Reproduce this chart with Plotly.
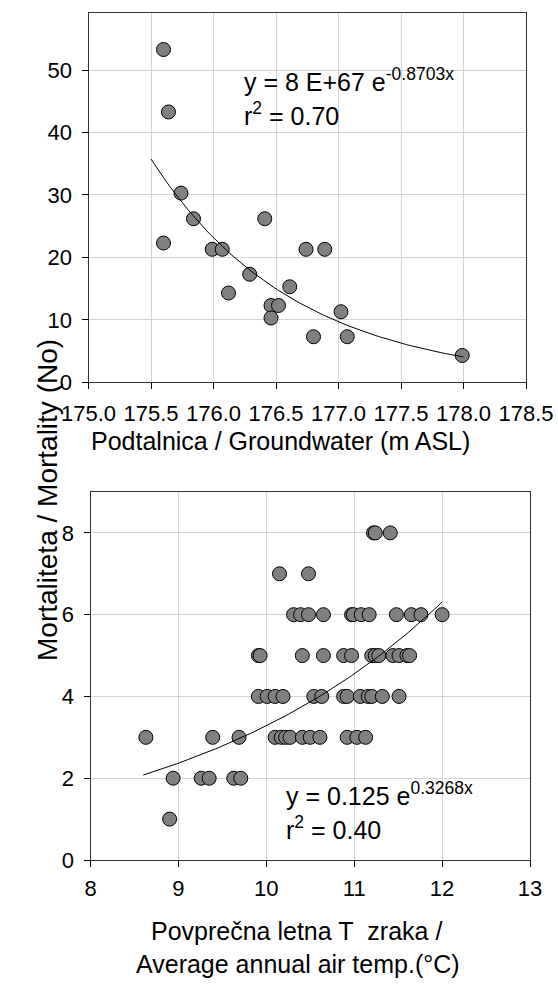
import numpy as np
import plotly.graph_objects as go

# ---- Top panel: groundwater vs mortality ----
gw_x = [175.60, 175.64, 175.74, 175.84, 175.60, 175.99, 176.07, 176.41, 176.29,
        176.12, 176.61, 176.46, 176.52, 176.46, 176.74, 176.89, 176.80, 177.02,
        177.07, 177.99]
gw_y = [53.3, 43.3, 30.3, 26.2, 22.3, 21.3, 21.3, 26.2, 17.3,
        14.3, 15.3, 12.3, 12.3, 10.3, 21.3, 21.3, 7.3, 11.3,
        7.3, 4.3]
gw_xticks = [175.0, 175.5, 176.0, 176.5, 177.0, 177.5, 178.0, 178.5]
gw_yticks = [0, 10, 20, 30, 40, 50]
gw_fit_a, gw_fit_b = 7.7e67, -0.8703   # shown rounded as "8 E+67"
gw_fit_range = [175.5, 178.0]

# ---- Bottom panel: air temperature vs mortality ----
t_x = [8.63, 9.39, 9.69,
       10.10, 10.17, 10.22, 10.27, 10.41, 10.50, 10.61, 10.92, 11.03, 11.13,
       8.94, 9.26, 9.35, 9.63, 9.71,
       8.90,
       9.91, 10.01, 10.10, 10.19, 10.54, 10.63, 10.88, 10.92, 11.07, 11.16, 11.20, 11.32, 11.51,
       9.91, 9.93, 10.41, 10.65, 10.88, 10.97, 11.20, 11.24, 11.28, 11.44, 11.51, 11.60, 11.63,
       10.31, 10.39, 10.48, 10.65, 10.97, 10.99, 11.08, 11.17, 11.48, 11.65, 11.76, 12.00,
       10.15, 10.48,
       11.22, 11.24, 11.41]
t_y = [3, 3, 3,
       3, 3, 3, 3, 3, 3, 3, 3, 3, 3,
       2, 2, 2, 2, 2,
       1,
       4, 4, 4, 4, 4, 4, 4, 4, 4, 4, 4, 4, 4,
       5, 5, 5, 5, 5, 5, 5, 5, 5, 5, 5, 5, 5,
       6, 6, 6, 6, 6, 6, 6, 6, 6, 6, 6, 6,
       7, 7,
       8, 8, 8]
t_xticks = [8, 9, 10, 11, 12, 13]
t_yticks = [0, 2, 4, 6, 8]
t_fit_a, t_fit_b = 0.125, 0.3268
t_fit_range = [8.6, 12.0]

W, H = 558, 987
FONT = "Arial, Liberation Sans, sans-serif"
TICK_SIZE = 22
TITLE_SIZE = 25
ANN_SIZE = 25
YTITLE_SIZE = 28

def px_x(p):
    return p / W

def px_y(p):
    return 1 - p / H

fig = go.Figure()

marker = dict(size=14, color="#808080", line=dict(color="#000000", width=1))

fig.add_trace(go.Scatter(x=gw_x, y=gw_y, mode="markers", marker=marker,
                         xaxis="x", yaxis="y", showlegend=False, cliponaxis=False))
fx = np.linspace(gw_fit_range[0], gw_fit_range[1], 100)
fig.add_trace(go.Scatter(x=fx, y=gw_fit_a * np.exp(gw_fit_b * fx), mode="lines",
                         line=dict(color="black", width=1),
                         xaxis="x", yaxis="y", showlegend=False))

fig.add_trace(go.Scatter(x=t_x, y=t_y, mode="markers", marker=marker,
                         xaxis="x2", yaxis="y2", showlegend=False, cliponaxis=False))
tx = np.linspace(t_fit_range[0], t_fit_range[1], 100)
fig.add_trace(go.Scatter(x=tx, y=t_fit_a * np.exp(t_fit_b * tx), mode="lines",
                         line=dict(color="black", width=1),
                         xaxis="x2", yaxis="y2", showlegend=False))

axis_common = dict(showline=True, linecolor="#303030", linewidth=1, mirror=True,
                   showgrid=True, gridcolor="#d4d4d4", gridwidth=1, automargin=False,
                   zeroline=False, ticks="outside", ticklen=6, tickcolor="#000000",
                   tickfont=dict(family=FONT, size=TICK_SIZE, color="black"))

fig.update_layout(
    width=W, height=H,
    margin=dict(l=0, r=0, t=0, b=0, autoexpand=False),
    paper_bgcolor="white", plot_bgcolor="white",
    xaxis=dict(domain=[px_x(88.5), px_x(526)], range=[175.0, 178.5],
               tickvals=gw_xticks, ticktext=[f"{v:.1f}" for v in gw_xticks],
               anchor="y", ticklabelstandoff=5, **axis_common),
    yaxis=dict(domain=[px_y(382.3), px_y(13.3)], range=[0, 59.1],
               tickvals=gw_yticks, anchor="x", ticklabelstandoff=5, **axis_common),
    xaxis2=dict(domain=[px_x(90.5), px_x(530)], range=[8, 13],
                tickvals=t_xticks, anchor="y2", ticklabelstandoff=3, **axis_common),
    yaxis2=dict(domain=[px_y(860), px_y(492)], range=[0, 9],
                tickvals=t_yticks, anchor="x2", ticklabelstandoff=5, **axis_common),
)

ann_font = dict(family=FONT, size=ANN_SIZE, color="black")
title_font = dict(family=FONT, size=TITLE_SIZE, color="black")

annotations = [
    dict(text="y = 8 E+67 e<sup>-0.8703x</sup>", x=px_x(242), y=px_y(80),
         xanchor="left", yanchor="middle"),
    dict(text="r<sup>2</sup> = 0.70", x=px_x(242), y=px_y(114),
         xanchor="left", yanchor="middle"),
    dict(text="y = 0.125 e<sup>0.3268x</sup>", x=px_x(284), y=px_y(794),
         xanchor="left", yanchor="middle"),
    dict(text="r<sup>2</sup> = 0.40", x=px_x(284), y=px_y(828),
         xanchor="left", yanchor="middle"),
]
for a in annotations:
    fig.add_annotation(xref="paper", yref="paper", showarrow=False, font=ann_font, **a)

fig.add_annotation(text="Podtalnica / Groundwater (m ASL)", xref="paper", yref="paper",
                   x=px_x(280), y=px_y(441), xanchor="center", yanchor="middle",
                   showarrow=False, font=title_font)
fig.add_annotation(text="Povprečna letna T\u00a0 zraka /", xref="paper", yref="paper",
                   x=px_x(296), y=px_y(931), xanchor="center", yanchor="middle",
                   showarrow=False, font=title_font)
fig.add_annotation(text="Average annual air temp.(°C)", xref="paper", yref="paper",
                   x=px_x(298), y=px_y(964), xanchor="center", yanchor="middle",
                   showarrow=False, font=title_font)
fig.add_annotation(text="Mortaliteta / Mortality (No)", xref="paper", yref="paper",
                   x=px_x(47), y=px_y(500), xanchor="center", yanchor="middle",
                   textangle=-90, showarrow=False,
                   font=dict(family=FONT, size=YTITLE_SIZE, color="black"))

fig.write_html("out.html", config={"displayModeBar": False, "staticPlot": True},
               post_script="document.body.style.margin='0';document.body.style.overflow='hidden';")
